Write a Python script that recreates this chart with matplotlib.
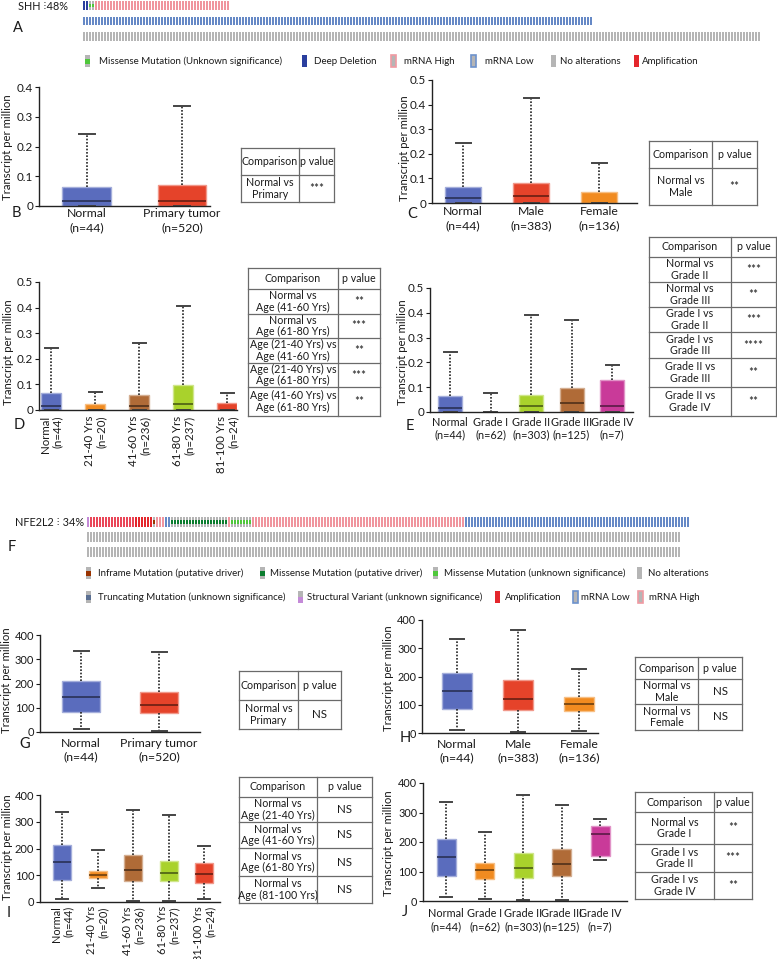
import matplotlib
matplotlib.use('Agg')
import matplotlib.pyplot as plt
from matplotlib.patches import Rectangle
import matplotlib.colors as mcolors
import numpy as np

plt.rcParams['font.family'] = ['Lato', 'DejaVu Sans']

W, H = 777, 959
fig = plt.figure(figsize=(W / 100, H / 100), dpi=100)

# ------------------------------------------------------------------ data
# Oncoprint tracks: (alteration type, number of samples)
shh_gene, shh_pct = "SHH", "48%"
shh_track1 = [("deep_del", 2), ("missense_unk", 2), ("mrna_high", 45)]
shh_track2 = [("mrna_low", 170)]
shh_track3 = [("none", 226)]

nfe_gene, nfe_pct = "NFE2L2", "34%"
nfe_track1 = [("sv", 1), ("amp_light", 15), ("amp", 6), ("inframe", 1), ("mrna_high", 3),
              ("mrna_low", 2), ("missense_drv", 19), ("mrna_high", 1), ("missense_unk", 7),
              ("mrna_high", 71), ("mrna_low", 75)]
nfe_track2 = [("none", 198)]
nfe_track3 = [("none", 198)]

legA_types = ["missense_unk", "deep_del", "mrna_high", "mrna_low", "none", "amp"]
legA_labels = ["Missense Mutation (Unknown significance)", "Deep Deletion", "mRNA High",
               "mRNA Low", "No alterations", "Amplification"]
legF1_types = ["inframe", "missense_drv", "missense_unk", "none"]
legF1_labels = ["Inframe Mutation (putative driver)", "Missense Mutation (putative driver)",
                "Missense Mutation (unknown significance)", "No alterations"]
legF2_types = ["trunc", "sv", "amp", "mrna_low", "mrna_high"]
legF2_labels = ["Truncating Mutation (unknown significance)", "Structural Variant (unknown significance)",
                "Amplification", "mRNA Low", "mRNA High"]

# SHH expression (transcript per million)
b_cats = ["Normal\n(n=44)", "Primary tumor\n(n=520)"]
b_lo = [0, 0]; b_q1 = [0, 0]; b_med = [0.016, 0.016]; b_q3 = [0.065, 0.070]; b_hi = [0.243, 0.337]

c_cats = ["Normal\n(n=44)", "Male\n(n=383)", "Female\n(n=136)"]
c_lo = [0, 0, 0]; c_q1 = [0, 0, 0]; c_med = [0.020, 0.027, 0.0]; c_q3 = [0.065, 0.083, 0.045]
c_hi = [0.243, 0.425, 0.162]

age_cats = ["Normal\n(n=44)", "21-40 Yrs\n(n=20)", "41-60 Yrs\n(n=236)", "61-80 Yrs\n(n=237)",
            "81-100 Yrs\n(n=24)"]
d_lo = [0, 0, 0, 0, 0]; d_q1 = [0, 0, 0, 0, 0]; d_med = [0.016, 0.0, 0.016, 0.025, 0.0]
d_q3 = [0.065, 0.023, 0.060, 0.097, 0.026]; d_hi = [0.243, 0.070, 0.263, 0.407, 0.068]

grade_cats = ["Normal\n(n=44)", "Grade I\n(n=62)", "Grade II\n(n=303)", "Grade III\n(n=125)",
              "Grade IV\n(n=7)"]
e_lo = [0, 0, 0, 0, 0]; e_q1 = [0, 0, 0, 0, 0]; e_med = [0.016, 0.0, 0.023, 0.035, 0.025]
e_q3 = [0.065, 0.0, 0.068, 0.095, 0.128]; e_hi = [0.243, 0.075, 0.390, 0.370, 0.190]

# NFE2L2 expression
g_lo = [13, 4]; g_q1 = [83, 79]; g_med = [146, 112]; g_q3 = [211, 164]; g_hi = [333, 331]
h_lo = [10, 3, 8]; h_q1 = [84, 81, 77]; h_med = [148, 122, 102]; h_q3 = [212, 187, 128]
h_hi = [334, 365, 226]
i_lo = [12, 52, 5, 5, 10]; i_q1 = [84, 88, 80, 78, 70]; i_med = [148, 100, 121, 110, 106]
i_q3 = [213, 116, 174, 155, 145]; i_hi = [338, 193, 345, 325, 210]
j_lo = [14, 8, 5, 5, 139]; j_q1 = [85, 74, 79, 86, 153]; j_med = [149, 105, 111, 125, 227]
j_q3 = [211, 130, 162, 176, 254]; j_hi = [336, 234, 359, 326, 279]

# comparison tables
tB_comp = ["Normal vs\nPrimary"]; tB_p = ["***"]
tC_comp = ["Normal vs\nMale"]; tC_p = ["**"]
tD_comp = ["Normal vs\nAge (41-60 Yrs)", "Normal vs\nAge (61-80 Yrs)", "Age (21-40 Yrs) vs\nAge (41-60 Yrs)",
           "Age (21-40 Yrs) vs\nAge (61-80 Yrs)", "Age (41-60 Yrs) vs\nAge (61-80 Yrs)"]
tD_p = ["**", "***", "**", "***", "**"]
tE_comp = ["Normal vs\nGrade II", "Normal vs\nGrade III", "Grade I vs\nGrade II", "Grade I vs\nGrade III",
           "Grade II vs\nGrade III", "Grade II vs\nGrade IV"]
tE_p = ["***", "**", "***", "****", "**", "**"]
tG_comp = ["Normal vs\nPrimary"]; tG_p = ["NS"]
tH_comp = ["Normal vs\nMale", "Normal vs\nFemale"]; tH_p = ["NS", "NS"]
tI_comp = ["Normal vs\nAge (21-40 Yrs)", "Normal vs\nAge (41-60 Yrs)", "Normal vs\nAge (61-80 Yrs)",
           "Normal vs\nAge (81-100 Yrs)"]
tI_p = ["NS", "NS", "NS", "NS"]
tJ_comp = ["Normal vs\nGrade I", "Grade I vs\nGrade II", "Grade I vs\nGrade IV"]
tJ_p = ["**", "***", "**"]

# ------------------------------------------------------------------ styles
TXT = '#1a1a1a'
C_NORMAL = '#5a6cbd'
C_RED = '#e5432a'
C_ORANGE = '#f18b20'
C_BROWN = '#b06b37'
C_LIME = '#a9d22c'
C_MAG = '#c93a99'

GRAY = '#b5b5b5'
ALT_FULL = {"deep_del": '#2a3f9e', "mrna_high": '#f0959e', "mrna_low": '#6689c6', "none": GRAY,
            "amp": '#e4262c', "amp_light": '#ea4658', "sv": '#c48ad8'}
ALT_MUT = {"missense_unk": '#4fc73b', "missense_drv": '#0b7d2e', "inframe": '#993300',
           "trunc": '#5a6f92'}


def lighten(c, f=0.4):
    r = np.array(mcolors.to_rgb(c))
    return tuple(r + (1 - r) * f)


def darken(c, f=0.55):
    r = np.array(mcolors.to_rgb(c))
    return tuple(r * (1 - f))


# overlay axes in pixel coordinates for text / tables / legends
ov = fig.add_axes([0, 0, 1, 1])
ov.set_xlim(0, W)
ov.set_ylim(H, 0)
ov.axis('off')


def oncoprint(x0, ytop, ybot, tracks, n_total, row_c1, row_pitch, bar_h, pitch=3):
    ax = fig.add_axes([x0 / W, 1 - ybot / H, n_total * pitch / W, (ybot - ytop) / H])
    ax.set_xlim(-0.5, n_total - 0.5)
    ax.set_ylim(2 + (ybot - (row_c1 + 2 * row_pitch)) / row_pitch, -(row_c1 - ytop) / row_pitch)
    ax.axis('off')
    h = bar_h / row_pitch
    bw = 2.0 / pitch
    for r, track in enumerate(tracks):
        kinds = [k for k, n in track for _ in range(n)]
        idx = np.arange(len(kinds)) - 0.5
        full_cols = [ALT_FULL.get(k, GRAY) for k in kinds]
        ax.bar(idx, h, bottom=r - h / 2, width=bw, align='edge', color=full_cols, linewidth=0,
               antialiased=False)
        mut = [(idx[i], ALT_MUT[k]) for i, k in enumerate(kinds) if k in ALT_MUT]
        if mut:
            mi, mc = zip(*mut)
            ax.bar(mi, h * 0.38, bottom=r - h * 0.19, width=bw, align='edge', color=mc,
                   linewidth=0, antialiased=False)
    return ax


def legend_icon(x, y, kind):
    w, hgt = 5, 12
    if kind in ("mrna_high", "mrna_low"):
        ec = '#f09aa2' if kind == "mrna_high" else '#6d92cc'
        ov.add_patch(Rectangle((x, y - hgt / 2), w, hgt, facecolor=GRAY, edgecolor=ec, lw=1.2))
    elif kind in ALT_MUT:
        ov.add_patch(Rectangle((x, y - hgt / 2), w, hgt, facecolor=GRAY, lw=0))
        ov.add_patch(Rectangle((x, y - 2.5), w, 5, facecolor=ALT_MUT[kind], lw=0))
    elif kind == "sv":
        ov.add_patch(Rectangle((x, y - hgt / 2), w, hgt, facecolor=GRAY, lw=0))
        ov.add_patch(Rectangle((x, y), w, hgt / 2, facecolor=ALT_FULL['sv'], lw=0))
    else:
        ov.add_patch(Rectangle((x, y - hgt / 2), w, hgt, facecolor=ALT_FULL[kind], lw=0))


def legend(types, labels, icon_x, text_x, y, fs=7.0):
    for k, lab, ix, tx in zip(types, labels, icon_x, text_x):
        legend_icon(ix, y, k)
        ov.text(tx, y, lab, fontsize=fs, ha='left', va='center', color=TXT)


def box_panel(geom, cats, lo, q1, med, q3, hi, colors, ymax, ystep, fmt, rotate=False,
              pad=2.0, linesp=1.35, xfs=8.8, yfs=8.4):
    left, right, y0, ytop, first, sp, bw, cw = geom
    ax = fig.add_axes([left / W, 1 - y0 / H, (right - left) / W, (y0 - ytop) / H])
    n = len(cats)
    pos = np.arange(1, n + 1)
    stats = [dict(med=med[i], q1=q1[i], q3=q3[i], whislo=lo[i], whishi=hi[i], fliers=[])
             for i in range(n)]
    bp = ax.bxp(stats, positions=pos, widths=bw / sp, capwidths=cw / sp, patch_artist=True,
                showfliers=False,
                whiskerprops=dict(color='#222222', lw=1.2, linestyle=(0, (1, 1))),
                capprops=dict(color='#444444', lw=1.4),
                medianprops=dict(lw=1.2), boxprops=dict(lw=1.0))
    for i, (b, m) in enumerate(zip(bp['boxes'], bp['medians'])):
        if q3[i] - q1[i] <= 0:
            b.set_visible(False)
            m.set_visible(False)
            continue
        b.set_facecolor(colors[i])
        b.set_edgecolor(lighten(colors[i], 0.45))
        m.set_color(darken(colors[i]))
        if med[i] <= 0:
            m.set_visible(False)
    ax.set_xlim(1 - (first - left) / sp, 1 + (right - first) / sp)
    ax.set_ylim(0, ymax)
    yt = np.arange(0, ymax + ystep / 2, ystep)
    ax.set_yticks(yt)
    ax.set_yticklabels([fmt(v) for v in yt])
    for s in ('top', 'right'):
        ax.spines[s].set_visible(False)
    for s in ('left', 'bottom'):
        ax.spines[s].set_color('#222222')
        ax.spines[s].set_linewidth(1.0)
    ax.tick_params(axis='y', length=3, width=0.8, pad=1.2, labelsize=yfs, colors=TXT)
    ax.tick_params(axis='x', length=0, pad=pad, labelsize=xfs, colors=TXT)
    ax.set_xticks(pos)
    if rotate:
        ax.set_xticklabels(cats, rotation=90, ha='center', va='top', multialignment='right',
                           linespacing=1.1)
    else:
        ax.set_xticklabels(cats, linespacing=linesp)
    ax.patch.set_visible(False)
    return ax


def fmt_small(v):
    return "0" if abs(v) < 1e-9 else f"{v:.1f}"


def fmt_int(v):
    return f"{int(round(v))}"


def draw_table(xs, ys, comps, pvals, fs=7.7, lc='#6a6a6a'):
    x0, xm, x1 = xs
    for y in ys:
        ov.plot([x0, x1], [y, y], color=lc, lw=0.9)
    for x in xs:
        ov.plot([x, x], [ys[0], ys[-1]], color=lc, lw=0.9)
    ov.text((x0 + xm) / 2, (ys[0] + ys[1]) / 2, "Comparison", fontsize=fs, ha='center', va='center',
            color=TXT)
    ov.text((xm + x1) / 2, (ys[0] + ys[1]) / 2, "p value", fontsize=fs, ha='center', va='center',
            color=TXT)
    for k, (c, p) in enumerate(zip(comps, pvals)):
        yc = (ys[k + 1] + ys[k + 2]) / 2
        ov.text((x0 + xm) / 2, yc, c, fontsize=fs, ha='center', va='center', linespacing=1.1,
                color=TXT)
        ov.text((xm + x1) / 2, yc, p, fontsize=fs + 0.6, ha='center', va='center', color=TXT)


def ylab(x, y):
    ov.text(x, y, "Transcript per million", rotation=90, ha='center', va='center', fontsize=8.2,
            color=TXT)


def letter(x, y, s):
    ov.text(x, y, s, ha='center', va='center', fontsize=10.5, color=TXT)


# ------------------------------------------------------------------ panel A
ov.text(18, 6, f"{shh_gene} \u205d{shh_pct}", fontsize=7.8, ha='left', va='center', color=TXT)
oncoprint(83, 0, 44, [shh_track1, shh_track2, shh_track3], 226, 5.5, 15.5, 8.5)
letter(18, 28, "A")
legend(legA_types, legA_labels, [85, 302, 391, 471, 551, 634], [99, 314, 404, 485, 560, 642], 61)

# ------------------------------------------------------------------ SHH boxplots
box_panel((39, 210, 206, 87, 86.5, 95.5, 48, 16), b_cats, b_lo, b_q1, b_med, b_q3, b_hi,
          [C_NORMAL, C_RED], 0.4, 0.1, fmt_small, pad=1.5, linesp=1.35)
ylab(8, 147); letter(16, 213, "B")
draw_table((241, 299, 334), [148, 175, 202], tB_comp, tB_p)

box_panel((432, 637, 203, 80, 463, 68, 36, 15), c_cats, c_lo, c_q1, c_med, c_q3, c_hi,
          [C_NORMAL, C_RED, C_ORANGE], 0.5, 0.1, fmt_small, pad=2.5, linesp=1.3)
ylab(405, 148); letter(412, 214, "C")
draw_table((649, 712, 757), [141, 168, 205], tC_comp, tC_p)

box_panel((39, 237, 410, 282, 51, 44, 20, 13), age_cats, d_lo, d_q1, d_med, d_q3, d_hi,
          [C_NORMAL, C_ORANGE, C_BROWN, C_LIME, C_RED], 0.5, 0.1, fmt_small, rotate=True, pad=4,
          xfs=8.3)
ylab(9, 352); letter(19, 425, "D")
draw_table((248, 338, 380), [268, 289, 314, 338, 363, 387, 416], tD_comp, tD_p)

box_panel((430, 633, 412, 288, 450, 40.5, 24, 13), grade_cats, e_lo, e_q1, e_med, e_q3, e_hi,
          [C_NORMAL, C_ORANGE, C_LIME, C_BROWN, C_MAG], 0.5, 0.1, fmt_small, pad=3.5, linesp=1.2,
          xfs=7.8)
ylab(403, 352); letter(410, 426, "E")
draw_table((649, 731, 776), [237, 257, 282, 307, 332, 358, 387, 416], tE_comp, tE_p)

# ------------------------------------------------------------------ panel F
ov.text(15, 522, f"{nfe_gene} \u205d {nfe_pct}", fontsize=7.8, ha='left', va='center', color=TXT)
oncoprint(87, 512, 560, [nfe_track1, nfe_track2, nfe_track3], 203, 522, 15, 9.5)
letter(12, 547, "F")
legend(legF1_types, legF1_labels, [86, 260, 433, 637], [98, 270, 444, 648], 573)
legend(legF2_types, legF2_labels, [86, 298, 495, 573, 638], [98, 307, 505, 581, 649], 597)

# ------------------------------------------------------------------ NFE2L2 boxplots
box_panel((40, 200, 732, 635, 81, 78, 38, 15), b_cats, g_lo, g_q1, g_med, g_q3, g_hi,
          [C_NORMAL, C_RED], 400, 100, fmt_int, pad=4, linesp=1.3, yfs=8.0)
ylab(7, 680); letter(25, 744, "G")
draw_table((239, 298, 341), [671, 700, 729], tG_comp, tG_p)

box_panel((422, 598, 733, 620, 457, 61, 30, 14), c_cats, h_lo, h_q1, h_med, h_q3, h_hi,
          [C_NORMAL, C_RED, C_ORANGE], 400, 100, fmt_int, pad=4, linesp=1.3, yfs=7.8)
ylab(389, 678); letter(405, 738, "H")
draw_table((635, 698, 742), [657, 679, 704, 730], tH_comp, tH_p)

box_panel((40, 220, 902, 795, 62, 35.5, 18, 12), age_cats, i_lo, i_q1, i_med, i_q3, i_hi,
          [C_NORMAL, C_ORANGE, C_BROWN, C_LIME, C_RED], 400, 100, fmt_int, rotate=True, pad=3,
          xfs=7.9, yfs=8.0)
ylab(8, 847); letter(9, 913, "I")
draw_table((239, 317, 372), [777, 797, 822, 848, 876, 903], tI_comp, tI_p)

box_panel((423, 627, 901, 783, 446, 38.5, 19, 12), grade_cats, j_lo, j_q1, j_med, j_q3, j_hi,
          [C_NORMAL, C_ORANGE, C_LIME, C_BROWN, C_MAG], 400, 100, fmt_int, pad=5, linesp=1.3,
          xfs=7.8, yfs=7.8)
ylab(389, 843); letter(405, 912, "J")
draw_table((635, 714, 752), [792, 812, 844, 872, 899], tJ_comp, tJ_p)

fig.savefig('out.png', dpi=100, facecolor='white')
